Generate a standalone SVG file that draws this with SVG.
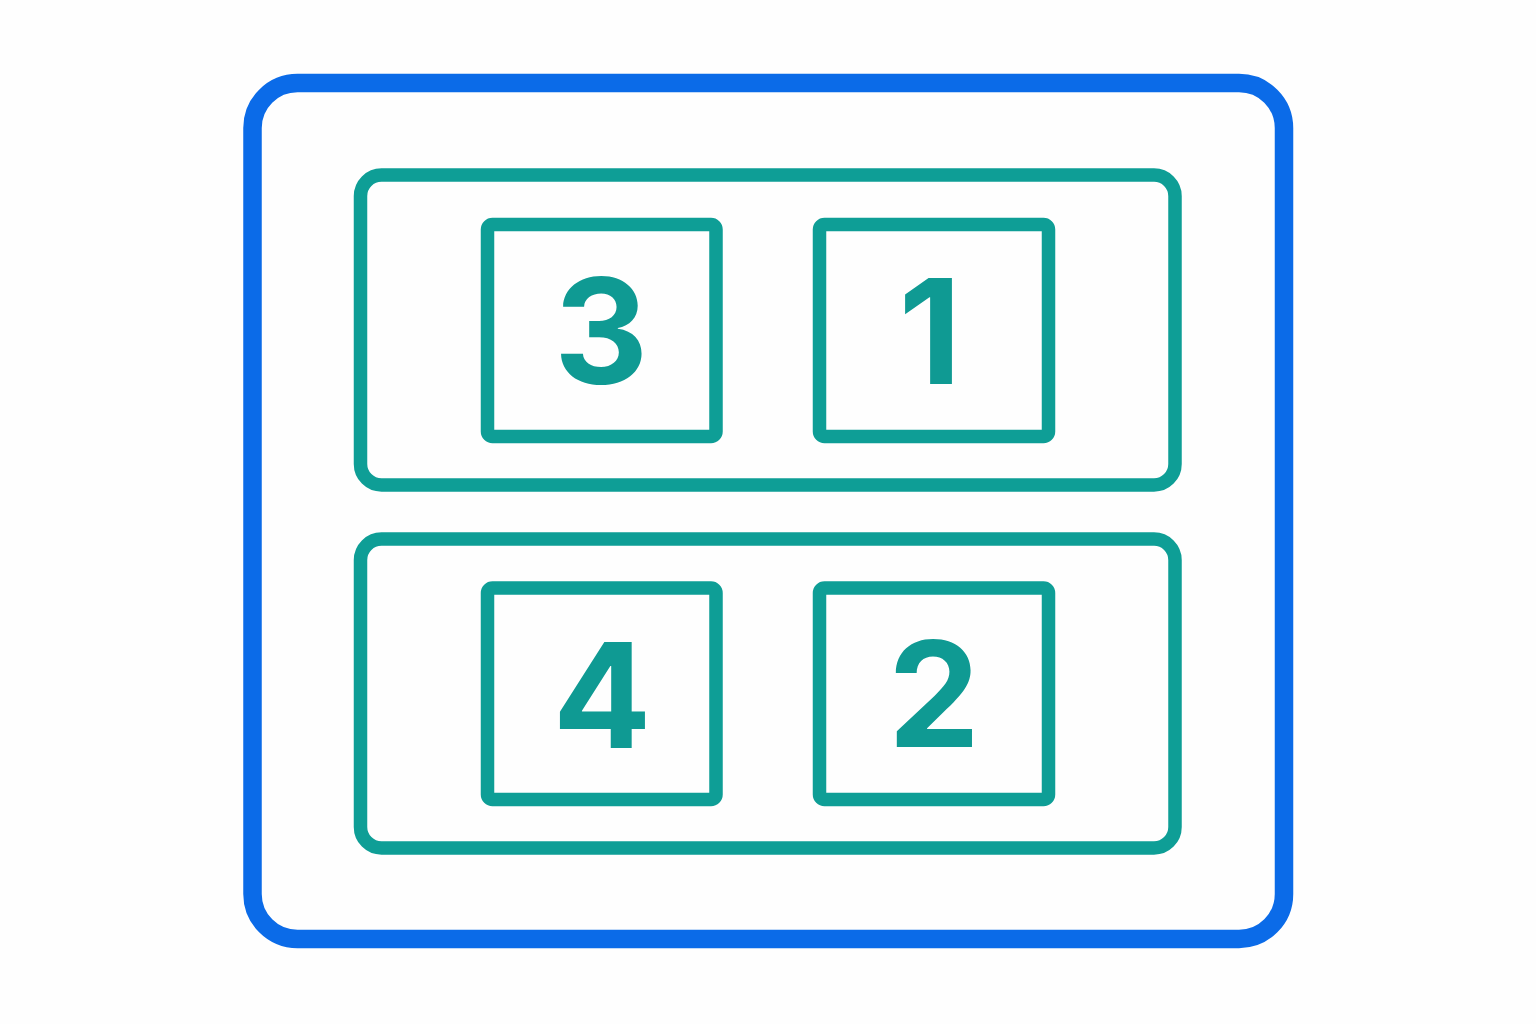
<svg xmlns="http://www.w3.org/2000/svg" width="1536" height="1024" viewBox="0 0 1536 1024">
<style>
.outer{fill:none;stroke:#0B6BE8;stroke-width:18.5}
.group{fill:none;stroke:#0E9E96;stroke-width:13.5}
.box{fill:none;stroke:#0E9E96;stroke-width:13.5}
.num{fill:#0F9A93;font-family:Inter,"Liberation Sans",Arial,sans-serif;font-weight:700;font-size:146px;text-anchor:middle}
</style>
<rect width="1536" height="1024" fill="#FEFEFE"/>
<g id="frame"><rect class="outer" x="252.5" y="83" width="1031.5" height="856" rx="45" ry="45"/></g>
<g id="row-top"><rect class="group" x="360.5" y="175" width="814.5" height="310" rx="21" ry="21"/></g>
<g id="row-bottom"><rect class="group" x="360.5" y="539" width="814.5" height="309" rx="21" ry="21"/></g>
<g id="box-3"><rect class="box" x="487.5" y="224.5" width="228.5" height="212" rx="5" ry="5"/><text class="num" x="601" y="384">3</text></g>
<g id="box-1"><rect class="box" x="819.5" y="224.5" width="229" height="212" rx="5" ry="5"/><text class="num" x="930" y="384">1</text></g>
<g id="box-4"><rect class="box" x="487.5" y="588" width="228.5" height="211.5" rx="5" ry="5"/><text class="num" x="602" y="748">4</text></g>
<g id="box-2"><rect class="box" x="819.5" y="588" width="229" height="211.5" rx="5" ry="5"/><text class="num" x="934" y="747">2</text></g>
<g id="connectors"></g>
</svg>
